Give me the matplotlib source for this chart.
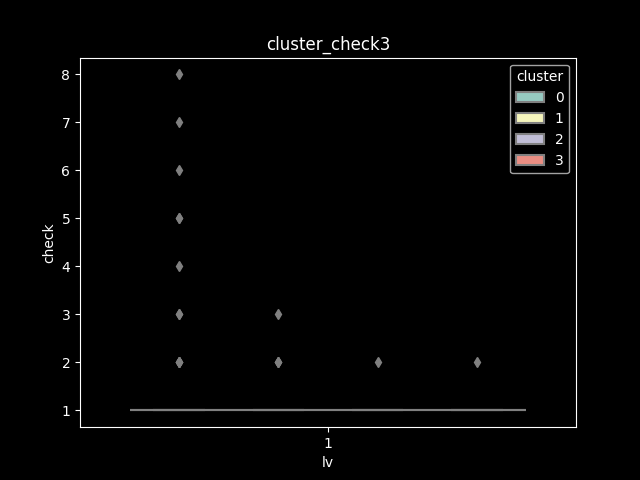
import matplotlib
matplotlib.use("Agg")
import matplotlib.pyplot as plt
import seaborn as sns
import pandas as pd
from matplotlib.patches import Patch

plt.style.use("dark_background")

clusters = [0, 1, 2, 3]
lv_values = [1]
# check values per cluster: majority are 1, the rest are outliers
ones_count = [60, 40, 30, 30]
outliers = {
    0: [2, 2, 2, 2, 3, 3, 4, 5, 5, 6, 7, 8],
    1: [2, 2, 2, 3],
    2: [2],
    3: [2],
}

rows = []
for c, n in zip(clusters, ones_count):
    vals = [1] * n + outliers[c]
    for v in vals:
        rows.append({"lv": lv_values[0], "cluster": c, "check": v})
df = pd.DataFrame(rows)

colors = sns.color_palette("Set3", len(clusters), desat=0.75)
gray = "#808080"

fig, ax = plt.subplots(figsize=(6.4, 4.8), dpi=100)
n = len(clusters)
width = 0.8 / n
positions = [-0.4 + width / 2 + i * width for i in range(n)]
data = [df[df["cluster"] == c]["check"].values for c in clusters]
bp = ax.boxplot(
    data, positions=positions, widths=width, patch_artist=True,
    whis=1.5, manage_ticks=False,
    boxprops=dict(edgecolor=gray, linewidth=1.5),
    medianprops=dict(color=gray, linewidth=1.5),
    whiskerprops=dict(color=gray, linewidth=1.5),
    capprops=dict(color=gray, linewidth=1.5),
    flierprops=dict(marker="d", markerfacecolor=gray, markeredgecolor=gray,
                    markersize=5),
)
for patch, col in zip(bp["boxes"], colors):
    patch.set_facecolor(col)

ax.set_xlim(-0.5, 0.5)
ax.set_xticks([0])
ax.set_xticklabels([str(lv_values[0])])
ax.set_xlabel("lv")
ax.set_ylabel("check")
ax.set_title("cluster_check3")

handles = [Patch(facecolor=col, edgecolor=gray, linewidth=1.5, label=str(c))
           for c, col in zip(clusters, colors)]
ax.legend(handles=handles, title="cluster", loc="upper right")

fig.savefig("out.png", dpi=100)
